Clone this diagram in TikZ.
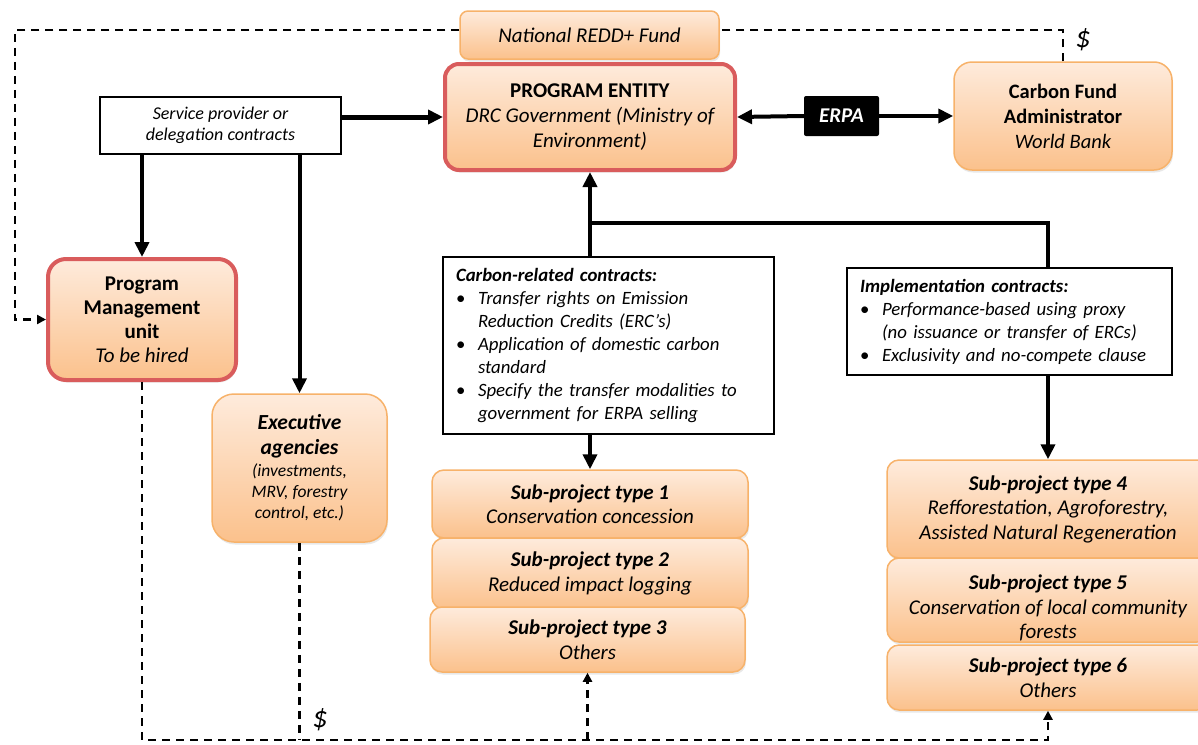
\documentclass[tikz,border=0pt]{standalone}
\usepackage{fontspec}
\setmainfont{Carlito}
\usetikzlibrary{arrows.meta,shadows}

\definecolor{peachtop}{RGB}{254,235,220}
\definecolor{peachbot}{RGB}{251,193,140}
\definecolor{peachline}{RGB}{247,178,106}
\definecolor{redline}{RGB}{217,92,92}

\newcommand{\fsz}[2]{\fontsize{#1}{#2}\selectfont}

\tikzset{
  orangebox/.style={rectangle, rounded corners=14pt, top color=peachtop,
    bottom color=peachbot, draw=peachline, line width=1.5pt, align=center,
    inner sep=2pt, text=black,
    drop shadow={opacity=0.18, shadow xshift=1pt, shadow yshift=-2.5pt}},
  redbox/.style={orangebox, draw=redline, line width=4pt},
  subbox/.style={orangebox, rounded corners=12pt, font=\fsz{21}{24.5}},
  contractbox/.style={rectangle, draw=black, line width=2.5pt, fill=white,
    align=left, inner xsep=13pt, inner ysep=2pt, font=\fsz{18.8}{23}\itshape},
  flow/.style={line width=4pt, -{Triangle[length=15pt,width=14pt]}},
  plainline/.style={line width=4pt},
  money/.style={line width=2.5pt, dash pattern=on 8pt off 6pt},
  moneyarrow/.style={money, -{Triangle[length=9pt,width=9pt]}},
  dollar/.style={font=\fsz{30}{30}\itshape, inner sep=0pt}
}

\begin{document}
\begin{tikzpicture}[x=1pt, y=-1pt]
\useasboundingbox (0,0) rectangle (1198,744);

% ---------- top row ----------
\node[orangebox, rounded corners=8pt, minimum width=259pt, minimum height=48pt,
      font=\fsz{21}{24}\itshape] (natfund) at (589.5,35) {National REDD+ Fund};

\node[redbox, minimum width=290pt, minimum height=106pt, font=\fsz{21}{25}]
      (pe) at (590,117)
      {\textbf{PROGRAM ENTITY}\\ \itshape DRC Government (Ministry of\\ \itshape Environment)};

\node[orangebox, rounded corners=18pt, minimum width=218pt, minimum height=108pt,
      font=\fsz{20.5}{25}] (cfa) at (1063,116)
      {\textbf{Carbon Fund}\\ \textbf{Administrator}\\ \itshape World Bank};

\node[rectangle, fill=black, rounded corners=2pt, minimum width=75pt,
      minimum height=40pt, text=white, font=\fsz{21}{24}\bfseries\itshape]
      (erpa) at (841.5,116) {ERPA};

\node[rectangle, draw=black, line width=2.5pt, fill=white, minimum width=241pt,
      minimum height=57pt, align=center, font=\fsz{18}{21}\itshape]
      (service) at (220.5,125.5) {Service provider or\\ delegation contracts};

% ---------- left column ----------
\node[redbox, rounded corners=18pt, minimum width=188pt, minimum height=121pt,
      font=\fsz{21}{24}] (pmu) at (142,319.5)
      {\textbf{Program}\\ \textbf{Management}\\ \textbf{unit}\\ \itshape To be hired};

\node[orangebox, rounded corners=22pt, minimum width=175pt, minimum height=148pt,
      font=\fsz{17.5}{21}\itshape] (exec) at (299.5,468)
      {{\fsz{21.5}{25}\bfseries Executive}\\[4pt]
       {\fsz{21.5}{25}\bfseries agencies}\\[1pt]
       (investments,\\ MRV, forestry\\ control, etc.)};

% ---------- contract boxes ----------
\node[contractbox, minimum width=331pt, minimum height=177pt, text width=305pt]
      (carbon) at (608.5,345.5)
      {\textbf{Carbon-related contracts:}\\
       \makebox[22pt][l]{\upshape\textbullet}Transfer rights on Emission\\
       \hspace*{22pt}Reduction Credits (ERC’s)\\
       \makebox[22pt][l]{\upshape\textbullet}Application of domestic carbon\\
       \hspace*{22pt}standard\\
       \makebox[22pt][l]{\upshape\textbullet}Specify the transfer modalities to\\
       \hspace*{22pt}government for ERPA selling};

\node[contractbox, minimum width=325pt, minimum height=107pt, text width=299pt]
      (impl) at (1009.5,321.5)
      {\textbf{Implementation contracts:}\\
       \makebox[22pt][l]{\upshape\textbullet}Performance-based using proxy\\
       \hspace*{22pt}(no issuance or transfer of ERCs)\\
       \makebox[22pt][l]{\upshape\textbullet}Exclusivity and no-compete clause};

% ---------- sub-projects, carbon side ----------
\node[subbox, minimum width=316pt, minimum height=68pt] (sub1) at (590,504)
      {\textbf{\itshape Sub-project type 1}\\ \itshape Conservation concession};
\node[subbox, minimum width=316pt, minimum height=71pt] (sub2) at (590,573.5)
      {\textbf{\itshape Sub-project type 2}\\ \itshape Reduced impact logging};
\node[subbox, minimum width=315pt, minimum height=65pt] (sub3) at (587.5,639.5)
      {\textbf{\itshape Sub-project type 3}\\ \itshape Others};

% ---------- sub-projects, implementation side ----------
\node[subbox, minimum width=322pt, minimum height=98pt] (sub4) at (1048,509)
      {\textbf{\itshape Sub-project type 4}\\ \itshape Refforestation, Agroforestry,\\
       \itshape Assisted Natural Regeneration};
\node[subbox, minimum width=322pt, minimum height=84pt] (sub5) at (1048,600) {};
\node[font=\fsz{21}{24.5}, align=center, inner sep=0pt] (sub5text)
      at ([yshift=-8pt]sub5.center)
      {\textbf{\itshape Sub-project type 5}\\ \itshape Conservation of local community\\
       \itshape forests};
\node[subbox, minimum width=322pt, minimum height=65pt] (sub6) at (1048,677.5)
      {\textbf{\itshape Sub-project type 6}\\ \itshape Others};

% ---------- contract flows ----------
\coordinate (hub) at (590,223);
\coordinate (busy) at (0,740);

\draw[flow, line width=5pt] (service.east |- pe.west) -- (pe.west);
\draw[flow] (service.south -| pmu.north) -- (pmu.north);
\draw[flow] (service.south -| exec.north) -- (exec.north);
\draw[flow] (erpa.west) -- (pe.east);
\draw[flow] (erpa.east) -- (cfa.west);
\draw[flow] (pe.south |- carbon.north) -- (pe.south);
\draw[plainline] (hub) -| (sub4.north |- impl.north);
\draw[flow] (pe.south |- carbon.south) -- (sub1.north);
\draw[flow] (sub4.north |- impl.south) -- (sub4.north);

% ---------- money flows ----------
\draw[money] (cfa.north) |- ([yshift=5pt]natfund.east);
\draw[moneyarrow] ([yshift=5pt]natfund.west) -| ([xshift=-31pt]pmu.west) -- (pmu.west);
\draw[moneyarrow] (pmu.south) |- (sub6.south |- busy) -- (sub6.south);
\draw[money] (exec.south) -- (exec.south |- busy);
\draw[moneyarrow] (sub3.south |- busy) -- (sub3.south);

\node[dollar] (dtop) at (1083,40) {\$};
\node[dollar] (dbottom) at (320,720) {\$};
\end{tikzpicture}
\end{document}
